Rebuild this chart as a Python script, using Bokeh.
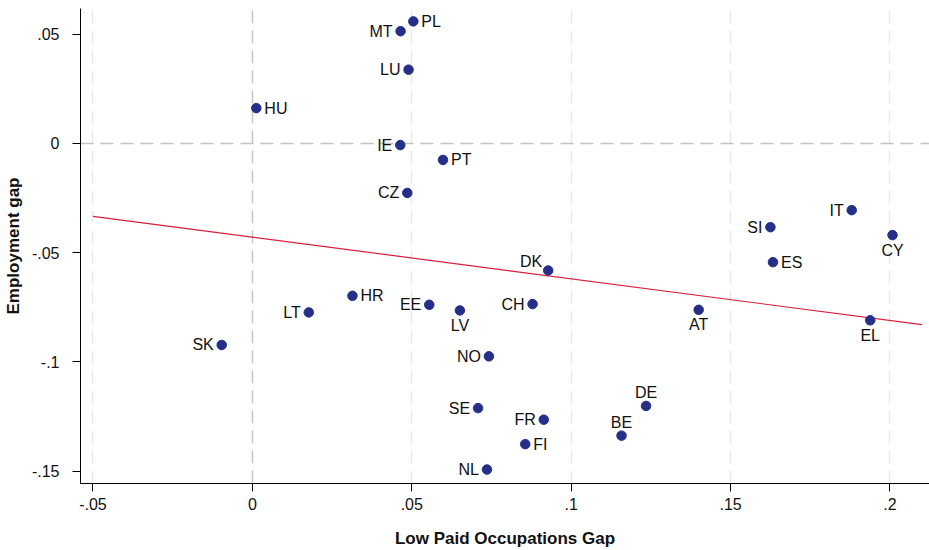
from bokeh.plotting import figure
from bokeh.models import ColumnDataSource, FixedTicker, Grid
from bokeh.core.properties import value
from bokeh.embed import file_html
from bokeh.resources import INLINE

# ---- data ----
countries = ["PL", "MT", "LU", "HU", "IE", "PT", "CZ", "IT", "SI", "CY", "ES", "DK",
             "HR", "LT", "EE", "LV", "CH", "AT", "EL", "SK", "NO", "SE", "DE", "FR",
             "BE", "FI", "NL"]
low_paid_gap = [0.0505, 0.0465, 0.0490, 0.00125, 0.0464, 0.0598, 0.0486, 0.1880, 0.1625,
                0.2008, 0.1633, 0.0928, 0.0314, 0.0177, 0.0555, 0.0651, 0.0879, 0.1400,
                0.1938, -0.0096, 0.0742, 0.0708, 0.1235, 0.0914, 0.1158, 0.0856, 0.0736]
employment_gap = [0.0558, 0.0513, 0.0337, 0.0161, -0.0008, -0.0076, -0.0227, -0.0306,
                  -0.0384, -0.0420, -0.0544, -0.0582, -0.0698, -0.0774, -0.0739, -0.0765,
                  -0.0736, -0.0762, -0.0810, -0.0923, -0.0975, -0.1212, -0.1202, -0.1265,
                  -0.1338, -0.1377, -0.1493]
fit_x = [-0.05, 0.21]
fit_y = [-0.0334, -0.0830]

x_ticks = [-0.05, 0, 0.05, 0.1, 0.15, 0.2]
x_tick_labels = ["-.05", "0", ".05", ".1", ".15", ".2"]
y_ticks = [-0.15, -0.1, -0.05, 0, 0.05]
y_tick_labels = ["-.15", "-.1", "-.05", "0", ".05"]

# label placement (style)
label_pos = {
    "right": ["PL", "HU", "PT", "ES", "HR", "FI"],
    "left": ["MT", "LU", "IE", "CZ", "IT", "SI", "LT", "EE", "CH", "SK", "NO", "SE", "FR", "NL"],
    "below": ["CY", "LV", "AT", "EL"],
    "above": ["DE", "BE"],
    "upleft": ["DK"],
}
pos_style = {
    "right": dict(text_align="left", x_offset=8, y_offset=0),
    "left": dict(text_align="right", x_offset=-8, y_offset=0),
    "below": dict(text_align="center", x_offset=0, y_offset=15),
    "above": dict(text_align="center", x_offset=0, y_offset=-13),
    "upleft": dict(text_align="right", x_offset=-6, y_offset=-9),
}

FONT = "Liberation Sans"
MARKER = "#252f88"
LINE = "#d81e3c"

p = figure(width=929, height=550,
           x_range=(-0.0539, 0.2124), y_range=(-0.1557, 0.0617),
           output_backend="svg", toolbar_location=None,
           min_border_left=79, min_border_right=0, min_border_top=8, min_border_bottom=66)
p.outline_line_color = None
p.background_fill_color = "white"
p.border_fill_color = "white"
p.xgrid.visible = False
p.ygrid.visible = False

# grid lines
light = [t for t in x_ticks if t != 0]
p.add_layout(Grid(dimension=0, ticker=FixedTicker(ticks=light),
                  grid_line_color="#e9e9e9", grid_line_width=1.5, grid_line_dash="13 7"))
p.add_layout(Grid(dimension=0, ticker=FixedTicker(ticks=[0]),
                  grid_line_color="#c4c4c4", grid_line_width=1.5, grid_line_dash="13 7"))
p.add_layout(Grid(dimension=1, ticker=FixedTicker(ticks=[0]),
                  grid_line_color="#c4c4c4", grid_line_width=1.5, grid_line_dash="13 7"))

# fit line
p.line(fit_x, fit_y, line_color=LINE, line_width=1.2)

# points
src = ColumnDataSource(dict(x=low_paid_gap, y=employment_gap, c=countries))
p.scatter("x", "y", source=src, size=9.5, fill_color=MARKER, line_color=MARKER)

# labels
for pos, names in label_pos.items():
    idx = [countries.index(n) for n in names]
    s = ColumnDataSource(dict(x=[low_paid_gap[i] for i in idx],
                              y=[employment_gap[i] for i in idx],
                              t=[countries[i] for i in idx]))
    st = pos_style[pos]
    p.text("x", "y", text="t", source=s, text_font=value(FONT), text_font_size="16px",
           text_color="#111111", text_baseline="middle", **st)

# axes
for ax, ticks, labs in ((p.xaxis, x_ticks, x_tick_labels), (p.yaxis, y_ticks, y_tick_labels)):
    ax.ticker = FixedTicker(ticks=ticks)
    ax.major_label_overrides = {t: l for t, l in zip(ticks, labs)}
    ax.minor_tick_line_color = None
    ax.major_tick_in = 0
    ax.major_tick_out = 8
    ax.axis_line_color = "black"
    ax.major_tick_line_color = "black"
    ax.major_label_text_font = FONT
    ax.major_label_text_font_size = "16px"
    ax.major_label_text_color = "#111111"
    ax.axis_label_text_font = FONT
    ax.axis_label_text_font_size = "17px"
    ax.axis_label_text_font_style = "bold"
    ax.axis_label_text_color = "#111111"

p.xaxis.axis_label = "Low Paid Occupations Gap"
p.yaxis.axis_label = "Employment gap"
p.xaxis.major_label_standoff = 6
p.yaxis.major_label_standoff = 13
p.xaxis.axis_label_standoff = 16
p.yaxis.axis_label_standoff = 6

open("out.html", "w").write(file_html(p, INLINE))
